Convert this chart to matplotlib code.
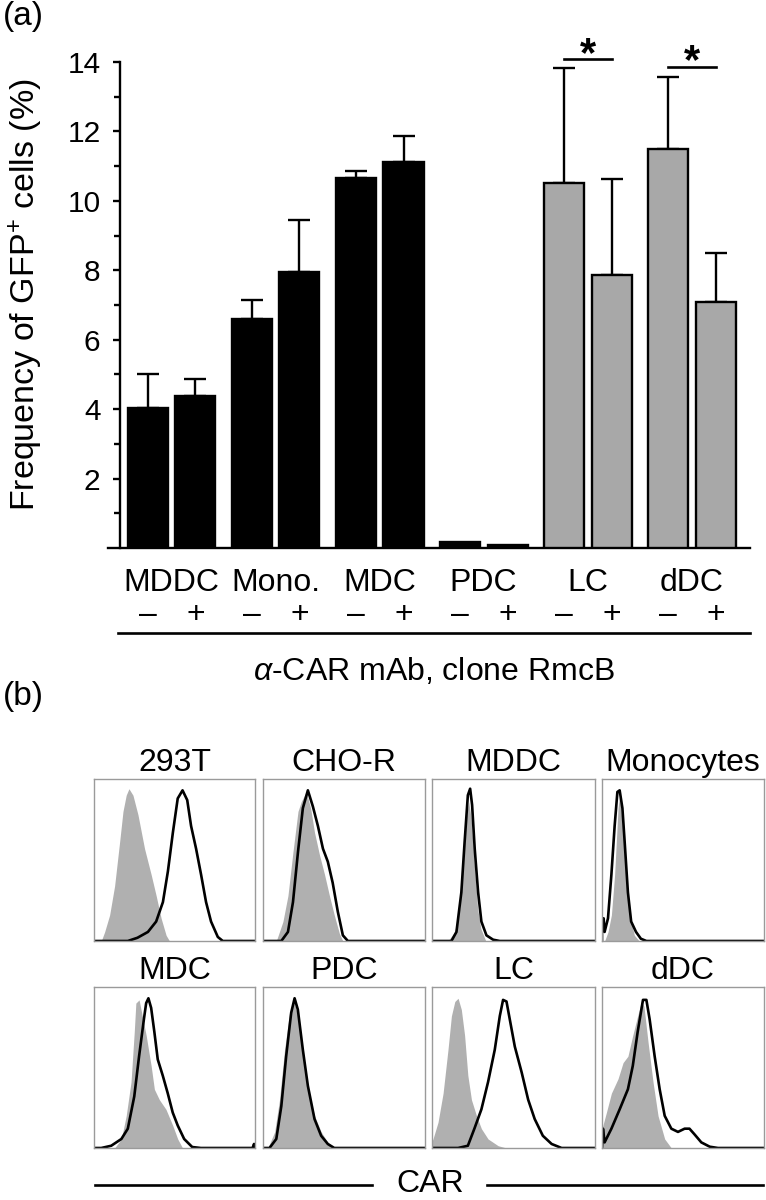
import numpy as np
import matplotlib
matplotlib.use("Agg")
import matplotlib.pyplot as plt
from matplotlib.lines import Line2D

plt.rcParams['font.family'] = ['Liberation Sans', 'DejaVu Sans']
plt.rcParams['mathtext.fontset'] = 'custom'
plt.rcParams['mathtext.rm'] = 'Liberation Sans'
plt.rcParams['mathtext.it'] = 'Liberation Sans:italic'

# ---- panel (a) data ----
groups = ["MDDC", "Mono.", "MDC", "PDC", "LC", "dDC"]
signs = ["\u2013", "+"]
freq_minus = [4.04, 6.60, 10.66, 0.18, 10.52, 11.50]
freq_plus = [4.39, 7.96, 11.12, 0.09, 7.85, 7.08]
err_minus = [0.97, 0.55, 0.20, 0.0, 3.32, 2.06]
err_plus = [0.47, 1.49, 0.75, 0.0, 2.78, 1.43]
gray_groups = ["LC", "dDC"]
signif_groups = ["LC", "dDC"]
signif_level = [14.09, 13.87]

# ---- panel (b) data: (x, y), box = 0..100 ----
hist_titles = ["293T", "CHO-R", "MDDC", "Monocytes", "MDC", "PDC", "LC", "dDC"]

ctrl_293T = [(4.5, 0), (6.6, 5.6), (9.7, 16), (12.8, 34), (15.9, 61), (18, 80), (20, 90),
             (21.7, 94), (24.2, 90), (27.3, 78), (31.4, 57), (35.5, 41), (38.6, 28),
             (41.7, 14), (44.8, 3.5), (46.9, 0)]
car_293T = [(0, 0), (21, 0), (27, 2), (33.5, 5.6), (38.6, 12), (42.8, 24), (45.9, 43), (49, 67),
            (52, 88), (55, 93), (57.9, 87), (60.3, 71), (63.4, 57), (66.5, 41), (69.6, 24),
            (72.7, 12), (76.9, 2.5), (80, 0), (100, 0)]

ctrl_CHOR = [(8.2, 0), (12.3, 12), (15.4, 28), (18.5, 55), (21.6, 80), (23.6, 86), (26.7, 92),
             (29.4, 82), (31.8, 67), (34.9, 53), (38, 41), (41, 28), (44, 16), (47.2, 4.5),
             (49.3, 0)]
car_CHOR = [(0, 0), (11.3, 0), (15.4, 5.6), (18.5, 24), (21.6, 55), (24.6, 82), (27.7, 93),
            (30.8, 83), (33.9, 71), (37, 57), (40, 49), (43, 36), (46.2, 18), (49.3, 3.5),
            (52.4, 0), (100, 0)]

ctrl_MDDC = [(9.8, 0), (13.9, 5.6), (17, 20), (19, 45), (21, 76), (22.5, 86), (24, 76),
             (26, 47), (28, 20), (30, 7.6), (33, 0)]
car_MDDC = [(0, 0), (11.9, 0), (15, 5.6), (18, 30), (20, 61), (22, 90), (23.4, 94), (24.6, 84),
            (26.2, 57), (28.3, 30), (30.3, 12), (33.4, 3.5), (37.5, 0.8), (41.6, 0), (100, 0)]

ctrl_Mono = [(1.6, 0), (3.7, 5.6), (5.8, 16), (7.8, 41), (9.9, 82), (10.9, 90), (12.6, 71),
             (15, 41), (17, 16), (20, 3.5), (23, 0)]
car_Mono = [(0, 0), (0, 14), (1, 14), (1.6, 5.6), (3.7, 14), (5.8, 41), (7.8, 71), (9.5, 92),
            (10.9, 93), (12.6, 82), (14, 61), (16, 30), (18, 12), (21, 5.6), (24, 1.4),
            (27.4, 0), (100, 0)]

ctrl_MDC = [(12.8, 0), (17, 5.6), (20, 20), (23, 41), (25, 72), (26, 90), (28, 92), (30, 82),
            (32.4, 70), (35.5, 51), (37.5, 36.5), (40.6, 30), (44.7, 24), (48.9, 14), (52, 5.6),
            (55, 0)]
car_MDC = [(0, 0), (4.5, 0), (10.7, 1.4), (17, 5.6), (21, 12), (25, 32), (28, 57), (31, 80),
           (32.4, 90), (33.8, 93), (35.5, 87), (37.5, 72), (39.6, 55), (42.7, 45), (45.8, 34),
           (48.9, 22), (52, 14), (56, 5.6), (61, 0.6), (66.4, 0), (98.5, 0), (99.4, 2.5),
           (100, 0)]

ctrl_PDC = [(3, 0), (7.2, 10), (10.2, 30), (13.3, 61), (16.4, 84), (19, 92), (21.5, 82),
            (24.6, 57), (27.7, 36.5), (31.8, 20), (35.9, 10), (40, 3.5), (44, 0)]
car_PDC = [(0, 0), (4, 0), (8.2, 5.6), (11.3, 26), (14.3, 57), (17.4, 84), (19.5, 93),
           (21.5, 86), (24.6, 61), (27.7, 38.6), (31.8, 18), (35.9, 7.6), (40, 2.5), (44, 0),
           (100, 0)]

ctrl_LC = [(0, 4), (0.6, 5.6), (3.7, 16), (6.8, 34), (9.8, 61), (11.9, 82), (14, 91), (16, 93),
           (18, 86), (20, 70), (22, 45), (24.2, 30), (27.3, 20), (30.3, 12), (34.4, 5.6),
           (40.6, 1.4), (45.7, 0)]
car_LC = [(0, 0), (16, 0), (22, 1.4), (26, 12), (30.3, 24), (34.4, 41), (38.5, 61), (41.6, 82),
          (43.6, 92), (45.7, 91), (47.7, 80), (50.8, 63), (55, 47), (59, 30), (63, 18),
          (68, 7.6), (73.4, 2.5), (79.5, 0), (100, 0)]

ctrl_dDC = [(0, 12), (2.7, 22), (5.8, 34), (9.9, 43), (13, 53), (16, 57), (19, 70), (22, 82),
            (24.3, 91), (25.9, 88), (28.4, 66), (31.5, 41), (34.6, 20), (38.7, 5.6), (42.8, 0)]
car_dDC = [(0, 0), (0.6, 12), (1.6, 3.5), (5.8, 12), (10.9, 24), (16, 36.5), (19, 51),
           (22, 72), (25.3, 92), (27.4, 92), (29.4, 80), (32.5, 57), (35.6, 36.5), (38.7, 20),
           (42.8, 12), (46.9, 10), (51, 12), (54, 12), (57, 8.6), (61.3, 3.5), (66.5, 0.8),
           (71.6, 0), (100, 0)]

ctrl_curves = [ctrl_293T, ctrl_CHOR, ctrl_MDDC, ctrl_Mono, ctrl_MDC, ctrl_PDC, ctrl_LC, ctrl_dDC]
car_curves = [car_293T, car_CHOR, car_MDDC, car_Mono, car_MDC, car_PDC, car_LC, car_dDC]

W, H = 766, 1200
fig = plt.figure(figsize=(W / 100, H / 100), dpi=100)


def px_axes(x0, y0, x1, y1):
    # pixel box (top-left origin) -> figure axes
    return fig.add_axes([x0 / W, 1 - y1 / H, (x1 - x0) / W, (y1 - y0) / H])


FS = 23
GRAY = '#a8a8a8'

# ---------------- panel (a) ----------------
ax = px_axes(108, 62, 750, 548)
xg = np.arange(len(groups))
off, bw = 0.23, 0.385
cols = [GRAY if g in gray_groups else 'black' for g in groups]
ax.bar(xg - off, freq_minus, bw, color=cols, edgecolor='black', linewidth=1.7, zorder=3)
ax.bar(xg + off, freq_plus, bw, color=cols, edgecolor='black', linewidth=1.7, zorder=3)
for xs, v, e in [(xg - off, freq_minus, err_minus), (xg + off, freq_plus, err_plus)]:
    v = np.array(v)
    e = np.array(e)
    m = e > 0
    ax.errorbar(xs[m], v[m], yerr=[np.zeros(m.sum()), e[m]], fmt='none', ecolor='black',
                elinewidth=1.7, capsize=8, capthick=1.7, zorder=2)

for g, lvl in zip(signif_groups, signif_level):
    i = groups.index(g)
    ax.plot([i - off, i + off], [lvl, lvl], color='black', lw=1.9, clip_on=False)
    ax.text(i, lvl - 0.2, '*', ha='center', va='baseline', fontsize=30, fontweight='bold',
            clip_on=False)

ax.set_xlim(-0.61, 5.56)
ax.set_ylim(0, 14)
ax.spines['top'].set_visible(False)
ax.spines['right'].set_visible(False)
ax.spines['left'].set_position(('data', -0.495))
ax.spines['left'].set_linewidth(1.7)
ax.spines['bottom'].set_linewidth(1.7)
ax.set_xticks([])
ax.set_yticks(np.arange(2, 15, 2))
ax.set_yticks(np.arange(1, 14, 2), minor=True)
ax.tick_params(axis='y', which='major', length=5, width=1.7, labelsize=21.5, pad=9)
ax.tick_params(axis='y', which='minor', length=4, width=1.7)

fig.text(26 / W, 1 - 295 / H, 'Frequency of GFP$^{+}$ cells (%)', rotation=90,
         ha='center', va='center', fontsize=24.5)

tr = ax.get_xaxis_transform()
for i, g in enumerate(groups):
    ax.text(i, -0.072, g, transform=tr, ha='center', va='center', fontsize=FS)
    ax.text(i - off, -0.138, signs[0], transform=tr, ha='center', va='center', fontsize=FS)
    ax.text(i + off, -0.138, signs[1], transform=tr, ha='center', va='center', fontsize=FS)

fig.add_artist(Line2D([118 / W, 750 / W], [1 - 633 / H, 1 - 633 / H], color='black', lw=1.9))
fig.text(434 / W, 1 - 671 / H, r'$\alpha$-CAR mAb, clone RmcB', ha='center', va='center',
         fontsize=FS)
fig.text(3 / W, 1 - 17 / H, '(a)', ha='left', va='center', fontsize=24)
fig.text(3 / W, 1 - 697 / H, '(b)', ha='left', va='center', fontsize=24)

# ---------------- panel (b) ----------------
col_x = [(94, 255), (263, 425), (432, 595), (602, 764)]
row_y = [(779, 941), (987, 1148)]
for k, title in enumerate(hist_titles):
    r, c = divmod(k, 4)
    x0, x1 = col_x[c]
    y0, y1 = row_y[r]
    hx = px_axes(x0, y0, x1, y1)
    cx, cy = zip(*ctrl_curves[k])
    hx.fill_between(cx, cy, 0, color='#b0b0b0', lw=0)
    bx, by = zip(*car_curves[k])
    hx.plot(bx, by, color='black', lw=1.9, solid_joinstyle='round')
    hx.set_xlim(0, 100)
    hx.set_ylim(0, 100)
    hx.set_xticks([])
    hx.set_yticks([])
    for s in hx.spines.values():
        s.set_color('#9a9a9a')
        s.set_linewidth(1.0)
    hx.set_title(title, fontsize=FS, pad=6)

fig.add_artist(Line2D([95 / W, 372 / W], [1 - 1185 / H, 1 - 1185 / H], color='black', lw=1.9))
fig.add_artist(Line2D([487 / W, 763 / W], [1 - 1185 / H, 1 - 1185 / H], color='black', lw=1.9))
fig.text(430 / W, 1 - 1199 / H, 'CAR', ha='center', va='bottom', fontsize=FS)

fig.savefig('out.png', dpi=100)
